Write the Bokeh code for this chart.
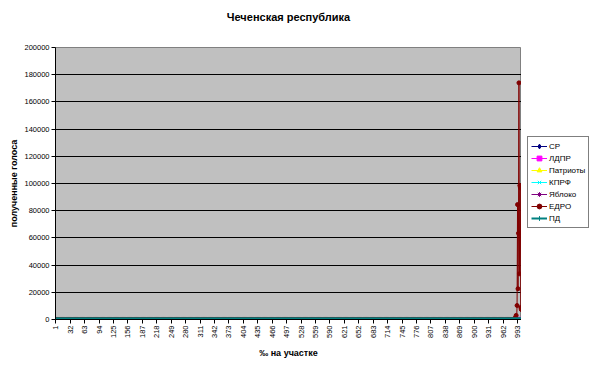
from math import pi
from bokeh.plotting import figure
from bokeh.layouts import row
from bokeh.models import (Legend, LegendItem, FixedTicker, ColumnDataSource, Range1d,
                          NumeralTickFormatter)
from bokeh.embed import file_html
from bokeh.resources import INLINE

# ---- data ----
categories = list(range(1, 1002))            # ‰ на участке (category index)
x_tick_labels = list(range(1, 1002, 31))      # 1, 32, 63, ... 993
y_ticks = list(range(0, 200001, 20000))

series_names = ["СР", "ЛДПР", "Патриоты", "КПРФ", "Яблоко", "ЕДРО", "ПД"]
series_colors = ["#000080", "#FF00FF", "#FFFF00", "#00FFFF", "#800080", "#800000", "#008080"]
series_markers = ["diamond", "square", "triangle", "x", "asterisk", "circle", "cross"]

# non-zero values near 100% turnout (category -> votes); everything else is 0
edro_cats = [986, 988, 990, 992, 993, 994, 995, 996, 997, 998, 999, 1000, 1001]
edro_vals = [400, 1200, 3000, 10300, 84500, 22600, 63400, 174000, 33600, 98500, 96800, 8800, 7350]
sr_cats = [996, 998, 999]
sr_vals = [300, 200, 150]
kprf_cats = [996, 998, 999]
kprf_vals = [500, 300, 250]
ldpr_cats = [996, 998]
ldpr_vals = [100, 80]

spikes = {
    "СР": (sr_cats, sr_vals),
    "ЛДПР": (ldpr_cats, ldpr_vals),
    "КПРФ": (kprf_cats, kprf_vals),
    "ЕДРО": (edro_cats, edro_vals),
}

FONT = "Liberation Sans"

p = figure(width=521, height=367, output_backend="svg", toolbar_location=None,
           x_range=Range1d(0.5, 1001.5), y_range=Range1d(0, 200000),
           min_border_left=55, min_border_right=0, min_border_top=0, min_border_bottom=48)
p.background_fill_color = "#C0C0C0"
p.border_fill_color = "white"
p.outline_line_color = "#808080"

p.title.text = "Чеченская республика\n "
p.title.align = "center"
p.title.vertical_align = "top"
p.title.text_font = FONT
p.title.text_font_size = "11px"
p.title.text_font_style = "bold"
p.title.text_color = "black"
p.title.standoff = 21

p.xgrid.visible = False
p.ygrid.grid_line_color = "black"
p.ygrid.ticker = FixedTicker(ticks=y_ticks)

p.yaxis.ticker = FixedTicker(ticks=y_ticks)
p.yaxis.formatter = NumeralTickFormatter(format="0")
p.yaxis.axis_label = "полученные голоса"
p.xaxis.ticker = FixedTicker(ticks=x_tick_labels)
p.xaxis.major_label_orientation = pi / 2
p.xaxis.axis_label = "‰ на участке"
for ax in (p.xaxis, p.yaxis):
    ax.axis_line_color = "black"
    ax.major_tick_line_color = "black"
    ax.major_tick_out = 4
    ax.major_tick_in = 0
    ax.minor_tick_line_color = None
    ax.major_label_text_font = FONT
    ax.major_label_text_font_size = "7.5px"
    ax.major_label_text_color = "black"
    ax.axis_label_text_font = FONT
    ax.axis_label_text_font_size = "9px"
    ax.axis_label_text_font_style = "bold"
    ax.axis_label_text_color = "black"
p.xaxis.major_label_standoff = 2
p.xaxis.axis_label_standoff = 7
p.yaxis.major_label_standoff = 2
p.yaxis.axis_label_standoff = 2

# legend lives in a narrow companion figure to the right of the plot area
lg = figure(width=69, height=367, output_backend="svg", toolbar_location=None,
            x_range=Range1d(0, 1), y_range=Range1d(0, 1),
            x_axis_type=None, y_axis_type=None,
            min_border_left=0, min_border_right=0, min_border_top=0, min_border_bottom=0)
lg.outline_line_color = None
lg.background_fill_color = "white"
lg.border_fill_color = "white"
lg.xgrid.visible = False
lg.ygrid.visible = False

items = []
for name, color, marker in zip(series_names, series_colors, series_markers):
    ys = [0] * len(categories)
    if name in spikes:
        for c, v in zip(*spikes[name]):
            ys[c - 1] = v
    src = ColumnDataSource(dict(x=categories, y=ys))
    lw = 3 if name == "ПД" else 1
    p.line("x", "y", source=src, line_color=color, line_width=lw)
    p.scatter("x", "y", source=src, marker=marker, size=4,
              line_color=color, fill_color=color)
    # legend key glyphs (same styling; placed outside the visible range)
    k1 = lg.line(x=[-5, -4], y=[-5, -5], line_color=color, line_width=1 if name != "ПД" else 2)
    k2 = lg.scatter(x=[-5], y=[-5], marker=marker, size=5, line_color=color, fill_color=color)
    items.append(LegendItem(label=name, renderers=[k1, k2]))

legend = Legend(items=items, location=(6, 91))
legend.label_text_font = FONT
legend.label_text_font_size = "8px"
legend.label_text_color = "black"
legend.label_height = 12
legend.glyph_height = 12
legend.glyph_width = 16
legend.spacing = 0
legend.padding = 3
legend.margin = 0
legend.label_standoff = 2
legend.border_line_color = "black"
legend.background_fill_color = "white"
legend.background_fill_alpha = 1
lg.add_layout(legend, "center")

layout = row(p, lg, spacing=0)
open("out.html", "w").write(file_html(layout, INLINE))
